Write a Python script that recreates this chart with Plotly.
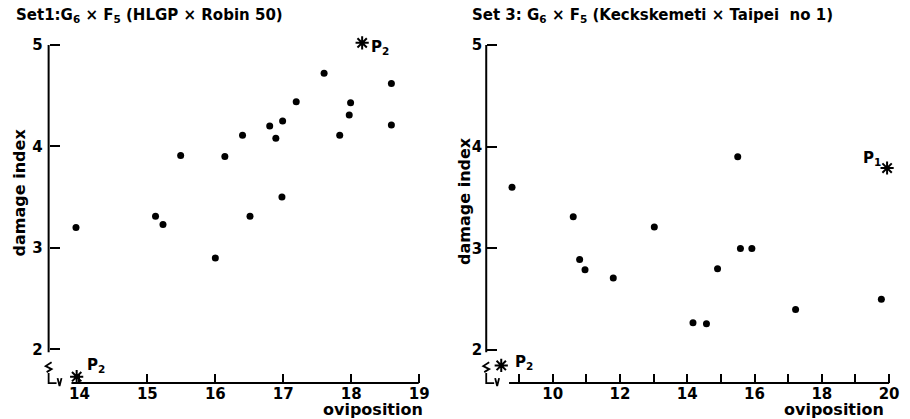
import plotly.graph_objects as go

W, H = 910, 419

# ---- Set 1: G6 x F5 (HLGP x Robin 50) ----
set1_ovi = [13.95, 17.60, 18.59, 17.19, 17.99, 17.97, 16.99, 16.80, 18.59, 16.40,
            16.89, 17.83, 15.49, 16.14, 16.98, 15.12, 15.23, 16.51, 16.00]
set1_dmg = [3.20, 4.72, 4.62, 4.44, 4.43, 4.31, 4.25, 4.20, 4.21, 4.11,
            4.08, 4.11, 3.91, 3.90, 3.50, 3.31, 3.23, 3.31, 2.90]
set1_par_ovi = [18.16, 13.96]
set1_par_dmg = [5.02, 1.73]
set1_par_lab = ["P<sub>2</sub>", "P<sub>2</sub>"]

# ---- Set 3: G6 x F5 (Keckskemeti x Taipei no 1) ----
set3_ovi = [8.79, 10.61, 13.02, 15.50, 10.80, 10.96, 11.80, 15.58, 15.92, 14.90,
            14.17, 14.57, 17.22, 19.77]
set3_dmg = [3.60, 3.31, 3.21, 3.90, 2.89, 2.79, 2.71, 3.00, 3.00, 2.80,
            2.27, 2.26, 2.40, 2.50]
set3_par_ovi = [19.94, 8.47]
set3_par_dmg = [3.79, 1.85]
set3_par_lab = ["P<sub>1</sub>", "P<sub>2</sub>"]

y_ticks = [2, 3, 4, 5]
x1_ticks = [14, 15, 16, 17, 18, 19]
x3_ticks = list(range(9, 21))
x3_text = [str(v) if v % 2 == 0 else "" for v in x3_ticks]

FONT = "DejaVu Sans"
INK = "black"


def fx(px):
    return px / W


def fy(py):
    return 1 - py / H


class Scale:
    """Linear pixel <-> value mapping for one axis."""

    def __init__(self, v_ref, px_ref, px_per_unit, flip=False):
        self.v, self.p, self.k, self.s = v_ref, px_ref, px_per_unit, -1 if flip else 1

    def val(self, px):
        return self.v + self.s * (px - self.p) / self.k

    def rng(self, lo, hi):
        a, b = self.val(lo), self.val(hi)
        return [min(a, b), max(a, b)]


# panel geometry (pixels)
TOP, YEND, BOT = 44, 352, 383        # y axis runs TOP..YEND, x axis sits at BOT
AREA_T, AREA_B = 36, 392             # plotting area, slightly larger than the axes
panels = [
    dict(sx=Scale(14, 80, 68.5), sy=Scale(5, 44, 101.7, flip=True),
         yl=49, xs=72, xe=422, area=(44, 426)),
    dict(sx=Scale(10, 557, 33.9), sy=Scale(5, 44, 102.0, flip=True),
         yl=490, xs=513, xe=896, area=(485, 902)),
]

fig = go.Figure()

dot = dict(color=INK, size=7)
star = dict(symbol="asterisk-open", size=11, color=INK, line=dict(color=INK, width=2))
axline = dict(color=INK, width=2.0)

series = [(set1_ovi, set1_dmg, set1_par_ovi, set1_par_dmg),
          (set3_ovi, set3_dmg, set3_par_ovi, set3_par_dmg)]

for i, (p, (ox, dy, px_, py_)) in enumerate(zip(panels, series)):
    xa, ya = ("x", "y") if i == 0 else ("x2", "y2")
    sx, sy = p["sx"], p["sy"]
    # vertical damage-index axis
    fig.add_trace(go.Scatter(x=[sx.val(p["yl"])] * 2, y=[sy.val(TOP), sy.val(YEND)],
                             mode="lines", line=axline, xaxis=xa, yaxis=ya,
                             hoverinfo="skip", showlegend=False))
    fig.add_trace(go.Scatter(x=ox, y=dy, mode="markers", marker=dot,
                             xaxis=xa, yaxis=ya, cliponaxis=False, showlegend=False))
    fig.add_trace(go.Scatter(x=px_, y=py_, mode="markers", marker=star,
                             xaxis=xa, yaxis=ya, cliponaxis=False, showlegend=False))

tick_font = dict(family=FONT, size=15, color=INK, weight="bold")
axis_common = dict(showgrid=False, zeroline=False, showline=False, anchor="free",
                   ticks="inside", tickcolor=INK, tickwidth=1.8, tickfont=tick_font)

p1, p3 = panels
fig.update_layout(
    width=W, height=H, margin=dict(l=0, r=0, t=0, b=0),
    paper_bgcolor="white", plot_bgcolor="white",
    xaxis=dict(domain=[fx(p1["area"][0]), fx(p1["area"][1])], range=p1["sx"].rng(*p1["area"]),
               tickvals=x1_ticks, ticklen=9, position=fy(BOT), **axis_common),
    yaxis=dict(domain=[fy(AREA_B), fy(AREA_T)], range=p1["sy"].rng(AREA_T, AREA_B),
               tickvals=y_ticks, ticklen=10, ticklabelstandoff=6, position=fx(p1["yl"]), **axis_common),
    xaxis2=dict(domain=[fx(p3["area"][0]), fx(p3["area"][1])], range=p3["sx"].rng(*p3["area"]),
                tickvals=x3_ticks, ticktext=x3_text, ticklen=9, position=fy(BOT), **axis_common),
    yaxis2=dict(domain=[fy(AREA_B), fy(AREA_T)], range=p3["sy"].rng(AREA_T, AREA_B),
                tickvals=y_ticks, ticklen=10, ticklabelstandoff=4, position=fx(p3["yl"]), **axis_common),
)

# horizontal oviposition axes (thin filled bars) and broken-axis corner symbols
shapes = []
stroke = dict(color=INK, width=1.8)


def poly(pts):
    d = "M " + " L ".join(f"{fx(a):.5f},{fy(b):.5f}" for a, b in pts)
    shapes.append(dict(type="path", xref="paper", yref="paper", path=d, line=stroke))


for p in panels:
    yl = p["yl"]
    shapes.append(dict(type="rect", xref="paper", yref="paper", layer="above",
                       x0=fx(p["xs"]), x1=fx(p["xe"]), y0=fy(BOT + 1), y1=fy(BOT - 1),
                       fillcolor=INK, line=dict(width=0)))
    poly([(yl + 3, 362), (yl - 3, 366), (yl + 3, 369), (yl - 2, 372)])   # vertical break
    poly([(yl, 373), (yl, BOT), (yl + 8, BOT)])                          # corner
    poly([(yl + 9, 378), (yl + 11, 386), (yl + 13, 378)])                # horizontal break

fig.update_layout(shapes=shapes)

ann = []
tfont = dict(family=FONT, size=15, color=INK, weight="bold")
lfont = dict(family=FONT, size=16, color=INK, weight="bold")
ann.append(dict(xref="paper", yref="paper", x=fx(14), y=fy(15), xanchor="left", yanchor="middle",
                text="Set1:G<sub>6</sub> × F<sub>5</sub> (HLGP × Robin 50)", showarrow=False, font=tfont))
ann.append(dict(xref="paper", yref="paper", x=fx(474), y=fy(15), xanchor="left", yanchor="middle",
                text="Set 3: G<sub>6</sub> × F<sub>5</sub> (Keckskemeti × Taipei  no 1)", showarrow=False, font=tfont))
for xc, yc in [(20, 192), (468, 200)]:
    ann.append(dict(xref="paper", yref="paper", x=fx(xc), y=fy(yc), textangle=-90,
                    xanchor="center", yanchor="middle",
                    text="damage index", showarrow=False, font=lfont))
for xc in [376, 840]:
    ann.append(dict(xref="paper", yref="paper", x=fx(xc), y=fy(409),
                    xanchor="center", yanchor="middle",
                    text="oviposition", showarrow=False, font=lfont))

# parent labels beside the asterisks
shifts1 = [(7, -5), (8, 11)]
for xv, yv, lab, (dx, dy) in zip(set1_par_ovi, set1_par_dmg, set1_par_lab, shifts1):
    ann.append(dict(xref="x", yref="y", x=xv, y=yv, text=lab, showarrow=False, font=tfont,
                    xanchor="left", yanchor="middle", xshift=dx, yshift=dy))
shifts3 = [(-26, 10), (12, 3)]
for xv, yv, lab, (dx, dy) in zip(set3_par_ovi, set3_par_dmg, set3_par_lab, shifts3):
    ann.append(dict(xref="x2", yref="y2", x=xv, y=yv, text=lab, showarrow=False, font=tfont,
                    xanchor="left", yanchor="middle", xshift=dx, yshift=dy))

fig.update_layout(annotations=ann)

fig.write_html("out.html")
